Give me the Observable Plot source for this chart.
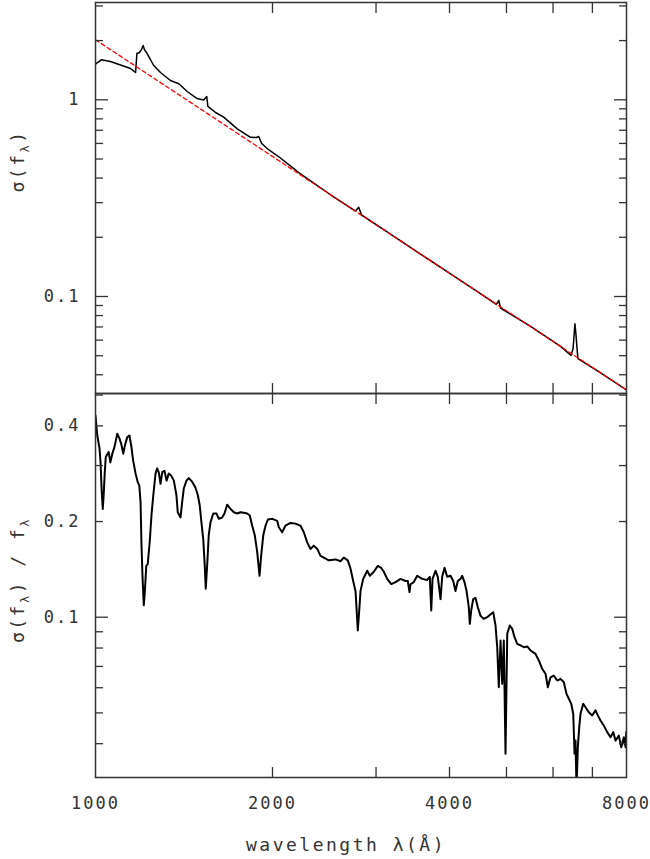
<!DOCTYPE html>
<html>
<head>
<meta charset="utf-8">
<script src="https://cdn.jsdelivr.net/npm/d3@7"></script>
<script src="https://cdn.jsdelivr.net/npm/@observablehq/plot@0.6"></script>
<style>
  body { margin: 0; background: #fff; }
  #chart { position: relative; width: 650px; height: 859px; overflow: hidden; }
  #chart svg { position: absolute; left: 0; top: 0; }
  #chart svg text { letter-spacing: 2px; }
</style>
</head>
<body>
<div id="chart"></div>
<script>
// ---- top panel: sigma(f_lambda) ----
const wavelengthTop = [1000, 1024, 1060, 1103, 1147, 1170, 1176, 1188, 1197, 1205, 1211, 1221, 1232, 1256, 1290, 1341, 1386, 1432, 1489, 1527, 1546, 1553, 1600, 1652, 1742, 1835, 1878, 1895, 1917, 1959, 2063, 2174, 2232, 2507, 2768, 2803, 2835, 3175, 3571, 4016, 4515, 4806, 4851, 4885, 5496, 6180, 6438, 6490, 6537, 6561, 6585, 6614, 7219, 8000];
const sigmaTop = [1.52, 1.60, 1.565, 1.503, 1.443, 1.377, 1.72, 1.74, 1.80, 1.888, 1.80, 1.74, 1.66, 1.494, 1.377, 1.254, 1.206, 1.102, 1.015, 0.998, 1.039, 0.925, 0.862, 0.816, 0.712, 0.645, 0.643, 0.651, 0.600, 0.565, 0.506, 0.447, 0.4196, 0.330, 0.272, 0.2844, 0.2596, 0.2078, 0.1644, 0.1304, 0.1034, 0.0911, 0.0954, 0.0874, 0.0704, 0.0558, 0.0501, 0.0544, 0.0726, 0.0648, 0.0564, 0.0483, 0.0410, 0.0335];

// red dashed power-law fit
const wavelengthFit = [1000, 8000];
const sigmaFit = [2.02, 0.0335];

// ---- bottom panel: sigma(f_lambda) / f_lambda ----
const wavelengthBottom = [1000, 1007, 1016, 1020, 1024, 1029, 1033, 1037, 1041, 1053, 1060, 1068, 1077, 1089, 1099, 1106, 1115, 1122, 1132, 1142, 1150, 1159, 1170, 1180, 1187, 1193, 1197, 1202, 1208, 1213, 1220, 1227, 1237, 1245, 1254, 1265, 1273, 1281, 1290, 1299, 1310, 1321, 1332, 1345, 1359, 1373, 1380, 1395, 1404, 1413, 1428, 1441, 1460, 1479, 1493, 1504, 1514, 1525, 1534, 1540, 1549, 1558, 1569, 1586, 1606, 1621, 1642, 1657, 1675, 1697, 1719, 1742, 1764, 1787, 1811, 1830, 1847, 1866, 1884, 1901, 1913, 1929, 1946, 1964, 1998, 2037, 2050, 2077, 2104, 2146, 2188, 2232, 2261, 2291, 2321, 2351, 2383, 2414, 2445, 2493, 2560, 2610, 2644, 2686, 2715, 2743, 2768, 2779, 2793, 2809, 2823, 2853, 2898, 2928, 2974, 3021, 3061, 3093, 3134, 3184, 3238, 3302, 3367, 3397, 3420, 3434, 3478, 3525, 3595, 3666, 3703, 3724, 3743, 3787, 3821, 3862, 3887, 3923, 3964, 4016, 4059, 4095, 4132, 4176, 4204, 4242, 4276, 4314, 4331, 4355, 4389, 4429, 4469, 4517, 4575, 4637, 4710, 4747, 4790, 4822, 4852, 4885, 4917, 4948, 4981, 5015, 5066, 5114, 5160, 5215, 5283, 5351, 5423, 5494, 5602, 5675, 5751, 5826, 5879, 5941, 6018, 6099, 6178, 6259, 6325, 6383, 6443, 6494, 6527, 6552, 6578, 6612, 6648, 6682, 6753, 6814, 6903, 6995, 7086, 7150, 7226, 7320, 7418, 7515, 7595, 7664, 7763, 7837, 7917, 7970, 7992];
const ratioBottom = [0.431, 0.373, 0.339, 0.307, 0.254, 0.219, 0.247, 0.286, 0.319, 0.331, 0.307, 0.327, 0.343, 0.378, 0.364, 0.351, 0.327, 0.347, 0.368, 0.373, 0.347, 0.311, 0.283, 0.266, 0.260, 0.230, 0.172, 0.135, 0.109, 0.120, 0.145, 0.147, 0.174, 0.209, 0.242, 0.283, 0.294, 0.286, 0.263, 0.286, 0.289, 0.269, 0.283, 0.279, 0.269, 0.242, 0.214, 0.206, 0.230, 0.254, 0.269, 0.274, 0.267, 0.256, 0.242, 0.225, 0.199, 0.176, 0.145, 0.123, 0.147, 0.181, 0.199, 0.212, 0.212, 0.204, 0.206, 0.212, 0.226, 0.219, 0.214, 0.212, 0.214, 0.213, 0.212, 0.209, 0.194, 0.181, 0.160, 0.135, 0.156, 0.181, 0.194, 0.203, 0.204, 0.201, 0.192, 0.185, 0.194, 0.198, 0.197, 0.194, 0.185, 0.172, 0.164, 0.168, 0.164, 0.156, 0.154, 0.151, 0.152, 0.150, 0.154, 0.151, 0.142, 0.130, 0.121, 0.1075, 0.0908, 0.105, 0.121, 0.132, 0.140, 0.135, 0.139, 0.145, 0.143, 0.139, 0.132, 0.127, 0.129, 0.132, 0.130, 0.130, 0.120, 0.127, 0.129, 0.135, 0.132, 0.131, 0.134, 0.105, 0.132, 0.140, 0.134, 0.114, 0.134, 0.143, 0.134, 0.135, 0.130, 0.121, 0.130, 0.132, 0.135, 0.129, 0.121, 0.1075, 0.0953, 0.105, 0.114, 0.115, 0.1075, 0.101, 0.0988, 0.100, 0.1025, 0.1037, 0.0942, 0.0805, 0.0602, 0.0845, 0.0617, 0.0845, 0.0372, 0.0887, 0.0942, 0.0919, 0.0865, 0.0825, 0.0815, 0.0805, 0.0809, 0.0786, 0.0767, 0.0731, 0.0688, 0.0664, 0.0602, 0.0647, 0.0655, 0.0632, 0.0640, 0.0624, 0.0574, 0.0554, 0.0534, 0.0497, 0.0372, 0.0409, 0.029, 0.0390, 0.0451, 0.0497, 0.0534, 0.0521, 0.0502, 0.0491, 0.0509, 0.0491, 0.0473, 0.0456, 0.0435, 0.0419, 0.0435, 0.0409, 0.0424, 0.0390, 0.0419, 0.0390, 0.0435];

// ---- ticks ----
const xTicks = [2000, 3000, 4000, 5000, 6000, 7000];
const xTickLabels = [1000, 2000, 4000, 8000];
const topMajorTicks = [0.1, 1];
const topMinorTicks = [0.04, 0.05, 0.06, 0.07, 0.08, 0.09, 0.2, 0.3, 0.4, 0.5, 0.6, 0.7, 0.8, 0.9, 2, 3];
const topTickLabels = [0.1, 1];
const bottomMajorTicks = [0.1];
const bottomMinorTicks = [0.04, 0.05, 0.06, 0.07, 0.08, 0.09, 0.2, 0.3, 0.4, 0.5];
const bottomTickLabels = [0.1, 0.2, 0.4];

const xDomain = [1000, 8000];
const topDomain = [0.03212, 3.124];
const bottomDomain = [0.03131, 0.5057];

const topData = wavelengthTop.map((w, i) => ({w, v: sigmaTop[i]}));
const fitData = wavelengthFit.map((w, i) => ({w, v: sigmaFit[i]}));
const bottomData = wavelengthBottom.map((w, i) => ({w, v: ratioBottom[i]}));

const INK = "#333";
const FONT = "DejaVu Sans Mono";
const style = {fontFamily: FONT, fontSize: "17px", color: INK, background: "transparent", overflow: "visible"};
const fmt = d => String(d);

function frameTicks(yMajor, yMinor) {
  return [
    Plot.frame({stroke: INK, strokeWidth: 1.5}),
    Plot.axisX(xTicks, {anchor: "bottom", tickSize: -10, fill: "none", label: null, strokeWidth: 1.3}),
    Plot.axisX(xTicks, {anchor: "top", tickSize: -10, fill: "none", label: null, strokeWidth: 1.3}),
    Plot.axisY(yMajor, {anchor: "left", tickSize: -13, fill: "none", label: null, strokeWidth: 1.3}),
    Plot.axisY(yMinor, {anchor: "left", tickSize: -8, fill: "none", label: null, strokeWidth: 1.3}),
    Plot.axisY(yMajor, {anchor: "right", tickSize: -13, fill: "none", label: null, strokeWidth: 1.3}),
    Plot.axisY(yMinor, {anchor: "right", tickSize: -8, fill: "none", label: null, strokeWidth: 1.3})
  ];
}

const topPlot = Plot.plot({
  width: 650, height: 395,
  marginTop: 2, marginBottom: 2, marginLeft: 95, marginRight: 24,
  style,
  x: {type: "log", domain: xDomain},
  y: {type: "log", domain: topDomain},
  marks: [
    Plot.line(topData, {x: "w", y: "v", stroke: "black", strokeWidth: 1.5, clip: true}),
    Plot.line(fitData, {x: "w", y: "v", stroke: "#ff0000", strokeWidth: 1.3, strokeDasharray: "4,3", clip: true}),
    ...frameTicks(topMajorTicks, topMinorTicks),
    Plot.axisY(topTickLabels, {anchor: "left", tickSize: 0, tickPadding: 15, tickFormat: fmt, label: null, fontSize: 17, fontFamily: FONT})
  ]
});

const bottomPlot = Plot.plot({
  width: 650, height: 859,
  marginTop: 393, marginBottom: 82, marginLeft: 95, marginRight: 24,
  style,
  x: {type: "log", domain: xDomain},
  y: {type: "log", domain: bottomDomain},
  marks: [
    Plot.line(bottomData, {x: "w", y: "v", stroke: "black", strokeWidth: 2, clip: true}),
    ...frameTicks(bottomMajorTicks, bottomMinorTicks),
    Plot.axisY(bottomTickLabels, {anchor: "left", tickSize: 0, tickPadding: 15, tickFormat: fmt, label: null, fontSize: 17, fontFamily: FONT}),
    Plot.axisX(xTickLabels, {anchor: "bottom", tickSize: 0, tickPadding: 19, tickFormat: fmt, label: null, fontSize: 17, fontFamily: FONT})
  ]
});

const chart = document.getElementById("chart");
chart.appendChild(topPlot);
chart.appendChild(bottomPlot);

// axis titles (with subscript lambda)
const svg = d3.select(bottomPlot);
function title(x, y, rotate, parts) {
  const t = svg.append("text")
    .attr("transform", `translate(${x},${y})` + (rotate ? " rotate(-90)" : ""))
    .attr("text-anchor", "middle")
    .attr("font-family", FONT)
    .attr("font-size", 18)
    .attr("fill", INK)
    .style("letter-spacing", "2.5px");
  parts.forEach(p => {
    const s = t.append("tspan").text(p.t);
    if (p.sub) s.attr("font-size", 12).attr("dy", 5);
    if (p.up) s.attr("dy", -5);
  });
  return t;
}
title(24, 161, true, [{t: "σ(f"}, {t: "λ", sub: true}, {t: ")", up: true}]);
title(24, 580, true, [{t: "σ(f"}, {t: "λ", sub: true}, {t: ") / f", up: true}, {t: "λ", sub: true}]);
title(346, 851, false, [{t: "wavelength λ(Å)"}]);
</script>
</body>
</html>
